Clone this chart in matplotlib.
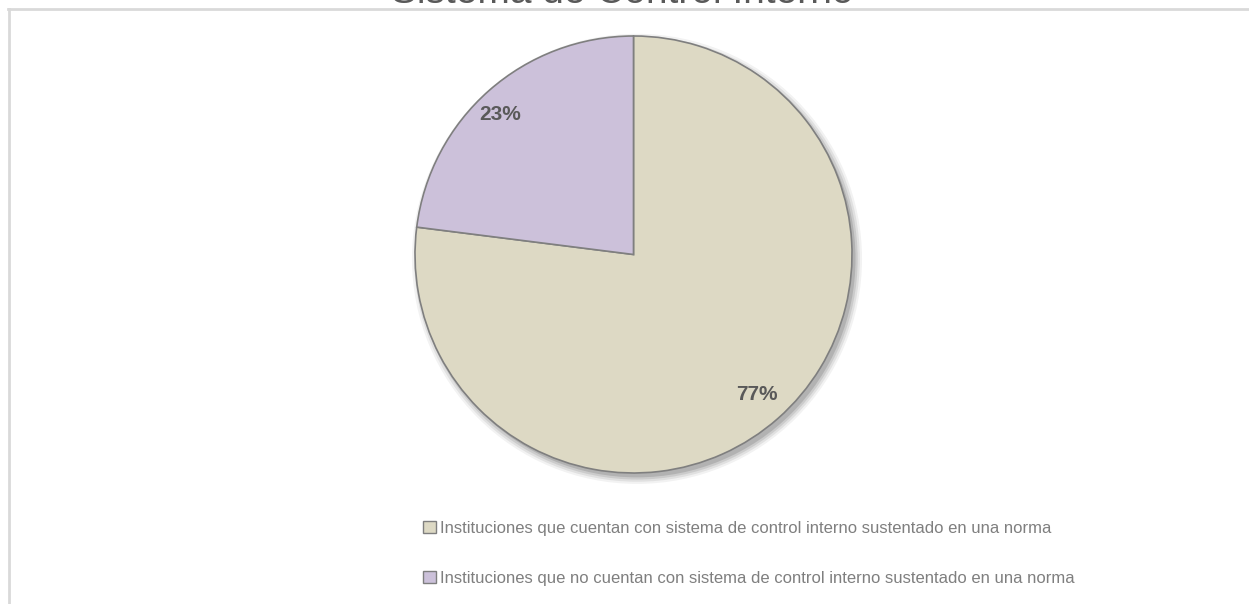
import matplotlib
matplotlib.use('Agg')
import matplotlib.pyplot as plt
from matplotlib.patches import Rectangle, Circle
from matplotlib.lines import Line2D

plt.rcParams['font.family'] = ['Liberation Sans', 'DejaVu Sans']

# datos
titulo = 'Sistema de Control Interno'
etiquetas = ['Instituciones que cuentan con sistema de control interno sustentado en una norma',
             'Instituciones que no cuentan con sistema de control interno sustentado en una norma']
valores = [77, 23]
colores = ['#DDD9C4', '#CCC1DA']

W, H = 1249, 604
fig = plt.figure(figsize=(W / 100, H / 100), dpi=100)

# marco gris del grafico
fig.add_artist(Line2D([8 / W, 1], [1 - 9 / H, 1 - 9 / H], color='#d9d9d9', lw=2))
fig.add_artist(Line2D([9 / W, 9 / W], [0, 1 - 9 / H], color='#d9d9d9', lw=2))

# titulo (cortado arriba como en el original)
fig.text(622 / W, 1 - 3 / H, titulo, ha='center', va='baseline', fontsize=28, color='#595959')

# pastel
cx, cy, r = 633.5, 254.5, 218.5
ax = fig.add_axes([(cx - r) / W, (H - cy - r) / H, 2 * r / W, 2 * r / H])
ax.axis('off')

# sombra suave
for i, a in enumerate([0.05, 0.07, 0.09, 0.12]):
    ax.add_patch(Circle((0.016, -0.02), 1.0 + 0.01 * (3 - i), color='black', alpha=a, lw=0,
                        zorder=0, clip_on=False))

wedges, _ = ax.pie(valores, colors=colores, startangle=90, counterclock=False, radius=1,
                   wedgeprops=dict(edgecolor='#7f7f7f', linewidth=1.2), frame=False)
for w in wedges:
    w.set_zorder(2)
    w.set_clip_on(False)
ax.set_xlim(-1, 1)
ax.set_ylim(-1, 1)

# etiquetas de porcentaje
ax.text((757 - cx) / r, (cy - 395) / r, '77%', ha='center', va='center', fontsize=15,
        fontweight='bold', color='#595959', zorder=3)
ax.text((500 - cx) / r, (cy - 115) / r, '23%', ha='center', va='center', fontsize=15,
        fontweight='bold', color='#595959', zorder=3)

# leyenda
handles = [Rectangle((0, 0), 1, 1, facecolor=c, edgecolor='#7f7f7f', lw=1) for c in colores]
fig.legend(handles, etiquetas, loc='upper left', bbox_to_anchor=(423 / W, 1 - 521 / H),
           frameon=False, fontsize=12, labelcolor='#7f7f7f', handlelength=0.75,
           handleheight=0.75, handletextpad=0.25, labelspacing=2.1, borderaxespad=0, borderpad=0)

fig.savefig('out.png', dpi=100)
